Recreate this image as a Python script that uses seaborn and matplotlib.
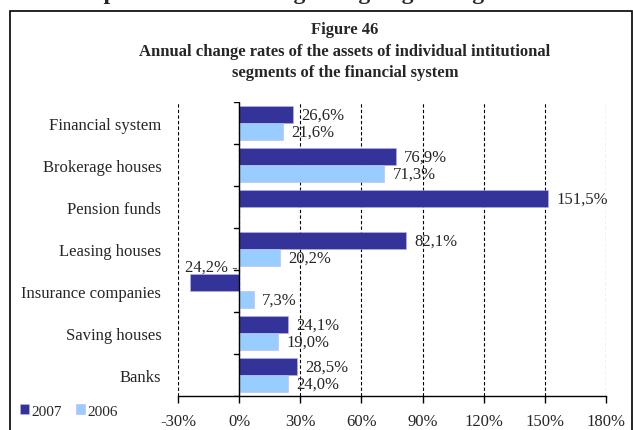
import pandas as pd
import matplotlib.pyplot as plt
import seaborn as sns
from matplotlib.patches import Rectangle

# Data
segments = ['Financial system', 'Brokerage houses', 'Pension funds', 'Leasing houses',
            'Insurance companies', 'Saving houses', 'Banks']
rates_2007 = [26.6, 76.9, 151.5, 82.1, -24.2, 24.1, 28.5]
rates_2006 = [21.6, 71.3, None, 20.2, 7.3, 19.0, 24.0]
years = ['2007', '2006']
xticks = [-30, 0, 30, 60, 90, 120, 150, 180]

df = pd.DataFrame({
    'segment': segments * 2,
    'year': ['2007'] * len(segments) + ['2006'] * len(segments),
    'rate': rates_2007 + rates_2006,
})
df = df.dropna()

sns.set_style('white')
plt.rcParams['font.family'] = ['Liberation Serif', 'DejaVu Serif']

fig = plt.figure(figsize=(6.33, 4.31), dpi=100)
ax = fig.add_axes([178 / 633, 1 - 397 / 431, (606 - 178) / 633, (397 - 103) / 431])

sns.barplot(data=df, x='rate', y='segment', hue='year', orient='h',
            order=segments, hue_order=years, palette=['#333399', '#99CCFF'],
            saturation=1, width=0.8, edgecolor='#B8B8F0', linewidth=0.4, ax=ax)

ax.set_xlim(-30, 180)
ax.set_ylim(len(segments) - 0.5, -0.5)
ax.set_xticks(xticks)
ax.set_xticklabels([f'{t}%' for t in xticks], fontsize=12)
ax.set_xlabel('')
ax.set_ylabel('')
ax.tick_params(axis='y', length=0, pad=12, labelsize=12)
ax.tick_params(axis='x', direction='out', length=5, width=1, color='black', pad=7, bottom=True)

# dashed vertical gridlines
ax.xaxis.grid(True, linestyle=(0, (3, 2)), color='black', linewidth=0.8)
ax.set_axisbelow(True)
for s in ['top', 'right', 'left']:
    ax.spines[s].set_visible(False)
ax.spines['bottom'].set_color('black')
ax.spines['bottom'].set_linewidth(1)

# zero axis with category boundary ticks
ax.axvline(0, color='black', linewidth=1, zorder=3)
for b in range(len(segments) + 1):
    ax.plot([-2.4, 0], [b - 0.5, b - 0.5], color='black', linewidth=1, zorder=3)

# value labels
for cont in ax.containers:
    for bar in cont:
        w = bar.get_width()
        yc = bar.get_y() + bar.get_height() / 2
        txt = f'{abs(w):.1f}%'.replace('.', ',')
        if w < 0:
            ax.annotate(txt + ' -', xy=(0, bar.get_y()), xytext=(-1, 0), textcoords='offset points',
                        ha='right', va='bottom', fontsize=12)
        else:
            ax.annotate(txt, xy=(w, yc), xytext=(6, 0), textcoords='offset points',
                        ha='left', va='center', fontsize=12)

# legend at bottom left
handles, labels = ax.get_legend_handles_labels()
ax.get_legend().remove()
fig.legend(handles, labels, loc='center left', bbox_to_anchor=(14 / 633, 1 - 412 / 431),
           ncol=2, frameon=False, fontsize=11, handlelength=0.6, handleheight=0.6,
           handletextpad=0.15, columnspacing=0.9, borderaxespad=0)

# titles
fig.text(345 / 633, 1 - 30 / 431, 'Figure 46', ha='center', va='center',
         fontsize=12, fontweight='bold')
fig.text(345 / 633, 1 - 52 / 431, 'Annual change rates of the assets of individual intitutional',
         ha='center', va='center', fontsize=12, fontweight='bold')
fig.text(345 / 633, 1 - 73 / 431, 'segments of the financial system',
         ha='center', va='center', fontsize=12, fontweight='bold')

# clipped heading line above the frame
fig.text(330 / 633, 1 + 6 / 431, 'was improved as at the beginning of growing lower rates of',
         ha='center', va='center', fontsize=17, fontweight='bold')

# outer frame
fig.patches.append(Rectangle((10 / 633, -0.05), 622 / 633, 1.05 - 12 / 431,
                             transform=fig.transFigure, fill=False,
                             edgecolor='black', linewidth=1.2))

fig.savefig('out.png', dpi=100)
